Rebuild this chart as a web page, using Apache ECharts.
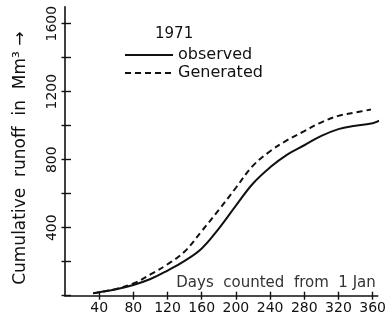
<!DOCTYPE html>
<html>
<head>
<meta charset="utf-8">
<script src="https://cdn.jsdelivr.net/npm/echarts@6/dist/echarts.min.js"></script>
<style>
html,body{margin:0;padding:0;background:#fff;}
#c{width:389px;height:321px;}
</style>
</head>
<body>
<div id="c"></div>
<script>
// Data
const obsDays = [33, 40, 60, 80, 100, 120, 140, 160, 180, 200, 220, 240, 260, 280, 300, 320, 340, 360, 368];
const obsVals = [14, 20, 38, 63, 98, 148, 205, 278, 395, 530, 660, 755, 830, 885, 940, 980, 1000, 1015, 1030];
const genDays = [33, 40, 60, 80, 100, 120, 140, 160, 180, 200, 220, 240, 260, 280, 300, 320, 340, 358];
const genVals = [14, 20, 40, 72, 125, 185, 260, 380, 505, 635, 765, 850, 915, 968, 1020, 1058, 1078, 1095];
const xTicks = [40, 80, 120, 160, 200, 240, 280, 320, 360];
const yTicks = [0, 200, 400, 600, 800, 1000, 1200, 1400, 1600];
const yLabels = [400, 800, 1200, 1600];
const seriesNames = ['observed', 'Generated'];
const yearLabel = '1971';

const chart = echarts.init(document.getElementById('c'), null, {renderer: 'canvas'});
const font = 'DejaVu Sans';
const ink = '#111';
const grid = {left: 65, right: 9, top: 6.7, bottom: 25.3};

const baseX = {
  type: 'value', min: 0, max: 366, gridIndex: 0,
  splitLine: {show: false}
};
const baseY = {
  type: 'value', min: 0, max: 1700, gridIndex: 0,
  splitLine: {show: false}
};

chart.setOption({
  animation: false,
  backgroundColor: '#fff',
  title: {
    text: yearLabel, left: 150, top: 22,
    textStyle: {fontFamily: font, fontSize: 15, fontWeight: 'normal', color: ink}
  },
  legend: {
    orient: 'vertical', left: 119, top: 42, itemGap: 2,
    itemWidth: 48, itemHeight: 12,
    itemStyle: {opacity: 0},
    textStyle: {fontFamily: font, fontSize: 16, fontWeight: 'normal', color: ink},
    data: seriesNames
  },
  grid: grid,
  xAxis: [
    Object.assign({}, baseX, {
      position: 'bottom',
      axisLine: {show: true, onZero: false, lineStyle: {color: ink, width: 1.6}},
      axisTick: {show: true, length: 4, inside: false, customValues: xTicks, lineStyle: {color: ink, width: 1.4}},
      axisLabel: {show: true, customValues: xTicks, formatter: v => String(v), fontFamily: font, fontSize: 14, color: ink, margin: 6},
      name: 'Days  counted  from  1 Jan',
      nameLocation: 'end', nameGap: -2,
      nameTextStyle: {fontFamily: font, fontSize: 15, fontWeight: 'normal', color: '#333',
        align: 'right', verticalAlign: 'bottom', padding: [0, 0, 5, 0]}
    }),
    Object.assign({}, baseX, {
      position: 'bottom',
      axisLine: {show: false, onZero: false},
      axisTick: {show: true, length: 4, inside: true, customValues: xTicks, lineStyle: {color: ink, width: 1.4}},
      axisLabel: {show: false}
    })
  ],
  yAxis: [
    Object.assign({}, baseY, {
      position: 'left',
      axisLine: {show: true, onZero: false, lineStyle: {color: ink, width: 1.6}},
      axisTick: {show: true, length: 3.5, inside: false, customValues: yTicks, lineStyle: {color: ink, width: 1.4}},
      axisLabel: {show: true, customValues: yLabels, formatter: v => String(v), rotate: 90, fontFamily: font, fontSize: 14, color: ink, margin: 6},
      name: 'Cumulative  runoff  in  Mm³ →',
      nameLocation: 'middle', nameGap: 36, nameRotate: 90,
      nameTextStyle: {fontFamily: font, fontSize: 17, color: ink, padding: [0, 14, 0, 0]}
    }),
    Object.assign({}, baseY, {
      position: 'left',
      axisLine: {show: false, onZero: false},
      axisTick: {show: true, length: 6, inside: true, customValues: yTicks, lineStyle: {color: ink, width: 1.4}},
      axisLabel: {show: false}
    })
  ],
  series: [
    {
      name: seriesNames[0], type: 'line', smooth: 0.4, symbol: 'none',
      xAxisIndex: 0, yAxisIndex: 0,
      lineStyle: {color: ink, width: 2, type: 'solid'},
      itemStyle: {color: ink},
      data: obsDays.map((d, i) => [d, obsVals[i]])
    },
    {
      name: seriesNames[1], type: 'line', smooth: 0.4, symbol: 'none',
      xAxisIndex: 0, yAxisIndex: 0,
      lineStyle: {color: ink, width: 2, type: [6, 4]},
      itemStyle: {color: ink},
      data: genDays.map((d, i) => [d, genVals[i]])
    }
  ]
});
</script>
</body>
</html>
